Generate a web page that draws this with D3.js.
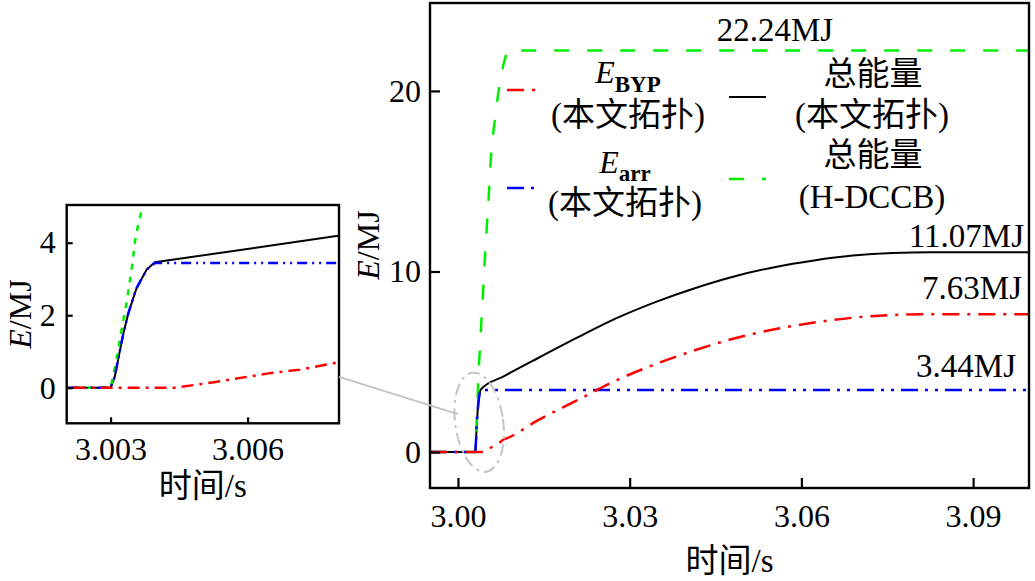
<!DOCTYPE html>
<html><head><meta charset="utf-8">
<script src="https://cdn.jsdelivr.net/npm/d3@7"></script>
<style>
html,body{margin:0;padding:0;background:#fff;}
svg{display:block;}
text{font-family:"Liberation Serif","Times New Roman","Noto Sans CJK SC",serif;fill:#000;}
</style></head><body>
<svg id="chart" width="1035" height="581"></svg>
<script>
// ---------------- data (time in s, energy in MJ) ----------------
const timeTotal = [2.9951, 3.0030, 3.00309, 3.00328, 3.00339, 3.00357, 3.00379, 3.00397, 3.00798, 3.0140, 3.0209, 3.0278, 3.0346, 3.0415, 3.0484, 3.0553, 3.0622, 3.0690, 3.0759, 3.0828, 3.0998];
const eTotal    = [0, 0, 0.3, 1.5, 2.06, 2.75, 3.26, 3.46, 4.19, 5.21, 6.35, 7.43, 8.32, 9.09, 9.74, 10.24, 10.61, 10.88, 11.03, 11.07, 11.07];

const timeArr = [2.9951, 3.0030, 3.00309, 3.00328, 3.00339, 3.00357, 3.00379, 3.00397, 3.0998];
const eArr    = [0, 0, 0.3, 1.5, 2.06, 2.75, 3.26, 3.44, 3.44];

const timeBYP = [2.9951, 3.0044, 3.00525, 3.00642, 3.00715, 3.00798, 3.0085, 3.0140, 3.0209, 3.0278, 3.0346, 3.0415, 3.0484, 3.0553, 3.0622, 3.0690, 3.0759, 3.0828, 3.0998];
const eBYP    = [0, 0, 0.15, 0.39, 0.5, 0.7, 0.76, 1.77, 2.88, 3.99, 4.88, 5.65, 6.30, 6.80, 7.17, 7.44, 7.59, 7.63, 7.63];

const timeHDCCB = [2.9951, 3.0030, 3.00313, 3.00324, 3.00335, 3.00346, 3.00355, 3.0037, 3.00402, 3.00437, 3.00472, 3.00507, 3.0054, 3.00575, 3.0064, 3.0071, 3.00814, 3.0088, 3.0998];
const eHDCCB    = [0, 0, 0.77, 1.6, 2.34, 3.26, 4.18, 5.01, 6.85, 8.8, 10.85, 12.65, 14.3, 16.3, 18.3, 20.0, 21.7, 22.24, 22.24];

const mainXTicks = [3.00, 3.03, 3.06, 3.09];
const mainXTickLabels = ["3.00", "3.03", "3.06", "3.09"];
const mainYTicks = [0, 10, 20];
const insetXTicks = [3.003, 3.006];
const insetXTickLabels = ["3.003", "3.006"];
const insetYTicks = [0, 2, 4];

const finalLabels = ["22.24MJ", "11.07MJ", "7.63MJ", "3.44MJ"];
const finalValues = [22.24, 11.07, 7.63, 3.44];

// ---------------- setup ----------------
const FONT = '"Liberation Serif","Times New Roman","Noto Sans CJK SC",serif';
const svg = d3.select("#chart");
const zip = (t, e) => t.map((d, i) => [d, e[i]]);
const series = [
  {key: "total", data: zip(timeTotal, eTotal), color: "#000000", w: 2, dash: null, dashI: null},
  {key: "hdccb", data: zip(timeHDCCB, eHDCCB), color: "#00ee00", w: 2.5, dash: "15,18", dashI: "6,7"},
  {key: "arr", data: zip(timeArr, eArr), color: "#0000ff", w: 2.5, dash: "17,7,3,7,3,7", dashI: "10,5,2,5,2,5"},
  {key: "byp", data: zip(timeBYP, eBYP), color: "#ff0000", w: 2.5, dash: "17,8,3,8", dashI: "12,6,3,6"}
];

function drawPanel(g, x, y, box, opts) {
  const id = "clip" + opts.name;
  svg.append("clipPath").attr("id", id).append("rect")
    .attr("x", box.l).attr("y", box.t).attr("width", box.r - box.l).attr("height", box.b - box.t);
  const lines = g.append("g").attr("clip-path", `url(#${id})`);
  const line = d3.line().x(d => x(d[0])).y(d => y(d[1])).curve(opts.curve);
  series.forEach(s => {
    lines.append("path").datum(s.data).attr("d", line)
      .attr("fill", "none").attr("stroke", s.color).attr("stroke-width", s.w)
      .attr("stroke-dasharray", opts.inset ? s.dashI : s.dash);
  });
  // axes with inward ticks
  const ax = g.append("g").attr("transform", `translate(0,${box.b})`)
    .call(d3.axisBottom(x).tickValues(opts.xTicks).tickFormat((d, i) => opts.xLabels[i])
      .tickSize(-opts.tick).tickPadding(opts.xPad));
  const ay = g.append("g").attr("transform", `translate(${box.l},0)`)
    .call(d3.axisLeft(y).tickValues(opts.yTicks).tickFormat(d3.format("d"))
      .tickSize(-opts.tick).tickPadding(opts.yPad));
  [ax, ay].forEach(a => {
    a.attr("font-family", FONT).attr("font-size", 32);
    a.select(".domain").remove();
    a.selectAll("line").attr("stroke", "#000").attr("stroke-width", 2.2);
    a.selectAll("text").style("font-family", FONT).style("font-size", "32px").attr("fill", "#000");
  });
  g.append("rect").attr("x", box.l).attr("y", box.t)
    .attr("width", box.r - box.l).attr("height", box.b - box.t)
    .attr("fill", "none").attr("stroke", "#000").attr("stroke-width", 2.4);
}

// ---------------- main panel ----------------
const mb = {l: 430, r: 1029, t: 3, b: 488};
const x = d3.scaleLinear().domain([2.99511, 3.09977]).range([mb.l, mb.r]);
const y = d3.scaleLinear().domain([-1.99, 24.87]).range([mb.b, mb.t]);
const gMain = svg.append("g");
drawPanel(gMain, x, y, mb, {name: "main", curve: d3.curveMonotoneX, xTicks: mainXTicks, xLabels: mainXTickLabels, yTicks: mainYTicks, tick: 10, xPad: 16, yPad: 9});

// ---------------- inset panel ----------------
const ib = {l: 66.7, r: 339, t: 205, b: 423.3};
const xi = d3.scaleLinear().domain([3.00204, 3.0080]).range([ib.l, ib.r]);
const yi = d3.scaleLinear().domain([-0.98, 5.04]).range([ib.b, ib.t]);
const gIn = svg.append("g");
drawPanel(gIn, xi, yi, ib, {name: "inset", inset: true, curve: d3.curveLinear, xTicks: insetXTicks, xLabels: insetXTickLabels, yTicks: insetYTicks, tick: 6, xPad: 14, yPad: 11});

// zoom marker ellipse and connector
svg.append("ellipse")
  .attr("cx", x(3.0037)).attr("cy", y(1.65)).attr("rx", 24).attr("ry", 50)
  .attr("transform", `rotate(-8,${x(3.0037)},${y(1.65)})`)
  .attr("fill", "none").attr("stroke", "#c4c4c4").attr("stroke-width", 2)
  .attr("stroke-dasharray", "12,5,3,5");
svg.append("line")
  .attr("x1", ib.r).attr("y1", yi(0.3)).attr("x2", x(3.0)).attr("y2", y(2.1))
  .attr("stroke", "#c4c4c4").attr("stroke-width", 2);

// ---------------- axis titles ----------------
function eTitle(tx, ty, rot) {
  const t = svg.append("text").attr("transform", `translate(${tx},${ty}) rotate(${rot})`)
    .attr("text-anchor", "middle").style("font-size", "32px");
  t.append("tspan").style("font-style", "italic").text("E");
  t.append("tspan").text("/MJ");
}
eTitle(379, 245, -90);
eTitle(31, 314, -90);
svg.append("text").attr("x", (mb.l + mb.r) / 2).attr("y", 572).attr("text-anchor", "middle")
  .style("font-size", "33px").text("时间/s");
svg.append("text").attr("x", (ib.l + ib.r) / 2).attr("y", 497).attr("text-anchor", "middle")
  .style("font-size", "33px").text("时间/s");

// ---------------- final value annotations ----------------
svg.append("text").attr("x", 775).attr("y", y(finalValues[0]) - 9).attr("text-anchor", "middle")
  .style("font-size", "33px").text(finalLabels[0]);
const annX = [null, 1024, 1022, 1016];
const annDy = [null, -5, -15, -13];
for (let i = 1; i < 4; i++) {
  svg.append("text").attr("x", annX[i]).attr("y", y(finalValues[i]) + annDy[i]).attr("text-anchor", "end")
    .style("font-size", "33px").text(finalLabels[i]);
}

// ---------------- legend ----------------
const legendSamples = [
  {s: series[3], x1: 507, x2: 540, y: 90},
  {s: series[0], x1: 729, x2: 766, y: 97},
  {s: series[2], x1: 507, x2: 540, y: 188},
  {s: series[1], x1: 729, x2: 766, y: 179}
];
legendSamples.forEach(l => {
  svg.append("line").attr("x1", l.x1).attr("x2", l.x2).attr("y1", l.y).attr("y2", l.y)
    .attr("stroke", l.s.color).attr("stroke-width", l.s.w).attr("stroke-dasharray", l.s.dash);
});
function symLabel(cx, by, sub, subDy) {
  const t = svg.append("text").attr("x", cx).attr("y", by).attr("text-anchor", "middle").style("font-size", "32px");
  t.append("tspan").style("font-style", "italic").text("E");
  t.append("tspan").attr("dy", subDy).style("font-size", "23px").style("font-weight", "bold").text(sub);
}
function plain(cx, by, txt) {
  svg.append("text").attr("x", cx).attr("y", by).attr("text-anchor", "middle").style("font-size", "33px").text(txt);
}
symLabel(628, 83, "BYP", 9);
plain(628, 126, "(本文拓扑)");
plain(873, 85, "总能量");
plain(872, 126, "(本文拓扑)");
symLabel(625, 173, "arr", 8);
plain(625, 214, "(本文拓扑)");
plain(873, 166, "总能量");
plain(872, 208, "(H-DCCB)");
</script>
</body></html>
